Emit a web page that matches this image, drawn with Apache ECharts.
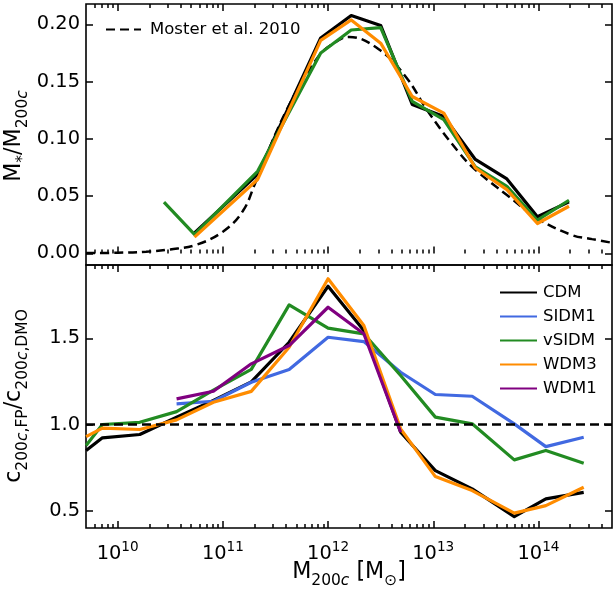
<!DOCTYPE html>
<html>
<head>
<meta charset="utf-8">
<script src="https://cdn.jsdelivr.net/npm/echarts@6/dist/echarts.min.js"></script>
<style>
  html, body { margin: 0; padding: 0; background: #fff; }
  #chart { width: 614px; height: 590px; }
</style>
</head>
<body>
<div id="chart"></div>
<script>
// top panel: M*/M200c, log10 of halo mass per bin
const logMTop = [10.44, 10.73, 11.33, 11.93, 12.22, 12.50, 12.80, 13.10, 13.40, 13.70, 13.99, 14.29];
const cdmTop = [null, 0.018, 0.069, 0.188, 0.2076, 0.199, 0.130, 0.1196, 0.082, 0.065, 0.032, 0.045];
const vsidmTop = [0.0447, 0.0166, 0.0717, 0.175, 0.195, 0.197, 0.1327, 0.1167, 0.0755, 0.0586, 0.029, 0.0464];
const wdm3Top = [null, 0.0142, 0.0645, 0.186, 0.2038, 0.1835, 0.137, 0.1225, 0.0746, 0.0557, 0.0261, 0.0412];

// Moster et al. 2010 curve
const logMMoster = [9.70, 10.0, 10.27, 10.5, 10.745, 11.0, 11.19, 11.31, 11.6, 11.91, 12.1, 12.2, 12.485, 12.74, 12.96, 13.245, 13.40, 13.7, 14.0, 14.32, 14.51, 14.70];
const moster = [0.0003, 0.0006, 0.0015, 0.0035, 0.0075, 0.019, 0.037, 0.062, 0.124, 0.172, 0.186, 0.189, 0.178, 0.154, 0.1225, 0.088, 0.073, 0.051, 0.030, 0.016, 0.0125, 0.0093];

// bottom panel: c200c,FP / c200c,DMO
const logMBot = [9.70, 9.855, 10.21, 10.56, 10.91, 11.27, 11.63, 12.00, 12.34, 12.69, 13.02, 13.37, 13.77, 14.07, 14.43];
const cdmBot = [0.849, 0.923, 0.942, 1.042, 1.139, 1.247, 1.477, 1.802, 1.545, 0.955, 0.733, 0.627, 0.466, 0.569, 0.607];
const sidm1Bot = [null, null, null, 1.12, 1.135, 1.245, 1.319, 1.506, 1.481, 1.303, 1.174, 1.164, 1.004, 0.872, 0.926];
const vsidmBot = [0.878, 1.0, 1.013, 1.075, 1.20, 1.32, 1.694, 1.559, 1.526, 1.284, 1.043, 1.004, 0.795, 0.849, 0.776];
const wdm3Bot = [0.93, 0.979, 0.971, 1.027, 1.129, 1.192, 1.448, 1.845, 1.574, 0.975, 0.698, 0.617, 0.486, 0.530, 0.636];
const wdm1Bot = [null, null, null, 1.149, 1.193, 1.352, 1.458, 1.68, 1.526, 0.955, null, null, null, null, null];

const xMajor = [1e10, 1e11, 1e12, 1e13, 1e14];
const topTicks = [0, 0.05, 0.10, 0.15, 0.20];
const botTicks = [0.5, 1.0, 1.5];

const FONT = "DejaVu Sans";
const colors = { CDM: "#000000", SIDM1: "#4169e1", vSIDM: "#228b22", WDM3: "#ff8c00", WDM1: "#800080" };

const xMinor = [];
for (let e = 9; e <= 14; e++) {
  for (let k = 2; k <= 9; k++) {
    const v = k * Math.pow(10, e);
    if (v > 5e9 && v < 5e14) xMinor.push(v);
  }
}

function pairs(logs, vals) {
  const out = [];
  logs.forEach((l, i) => {
    if (vals[i] !== null) out.push([Math.pow(10, l), vals[i]]);
  });
  return out;
}

const tickStyle = { color: "#000", width: 1.5 };

function xAxisFor(grid, pos, major, labels) {
  return {
    type: "log",
    logBase: 10,
    gridIndex: grid,
    position: pos,
    min: 5e9,
    max: 5e14,
    axisLine: { show: false },
    splitLine: { show: false },
    axisTick: {
      show: true,
      inside: true,
      length: major ? 7 : 4,
      customValues: major ? xMajor : xMinor,
      lineStyle: tickStyle,
    },
    axisLabel: {
      show: labels,
      customValues: xMajor,
      margin: 12,
      formatter: function (v) {
        return "{b|10}{s|" + Math.round(Math.log10(v)) + "}";
      },
      rich: {
        b: { fontFamily: FONT, fontSize: 19.4, color: "#000", verticalAlign: "bottom" },
        s: { fontFamily: FONT, fontSize: 13.6, color: "#000", verticalAlign: "bottom", padding: [0, 0, 9, 0] },
      },
    },
  };
}

function yAxisFor(grid, pos, min, max, ticks, digits, labels) {
  return {
    type: "value",
    gridIndex: grid,
    position: pos,
    min: min,
    max: max,
    axisLine: { show: false },
    splitLine: { show: false },
    axisTick: { show: true, inside: true, length: 7, customValues: ticks, lineStyle: tickStyle },
    axisLabel: {
      show: labels,
      customValues: ticks,
      margin: 6,
      fontFamily: FONT,
      fontSize: 19.4,
      color: "#000",
      formatter: (v) => v.toFixed(digits),
    },
  };
}

function line(name, logs, vals, xi, yi, extra) {
  return Object.assign({
    name: name,
    type: "line",
    xAxisIndex: xi,
    yAxisIndex: yi,
    data: pairs(logs, vals),
    showSymbol: false,
    symbol: "none",
    lineStyle: { color: colors[name] || "#000", width: 3.2, join: "round" },
    itemStyle: { color: colors[name] || "#000" },
    emphasis: { disabled: true },
    animation: false,
  }, extra || {});
}

const chart = echarts.init(document.getElementById("chart"));

const subText = {
  n: { fontFamily: FONT, fontSize: 22.2, color: "#000", verticalAlign: "bottom", padding: [0, 0, 6, 0] },
  s: { fontFamily: FONT, fontSize: 15.5, color: "#000", verticalAlign: "bottom" },
  si: { fontFamily: FONT, fontSize: 15.5, fontStyle: "italic", color: "#000", verticalAlign: "bottom" },
};

const option = {
  animation: false,
  grid: [
    { left: 86, right: 2, top: 4, height: 261, show: true, borderColor: "#000", borderWidth: 1.6, backgroundColor: "transparent", outerBoundsMode: "none" },
    { left: 86, right: 2, top: 265, height: 263, show: true, borderColor: "#000", borderWidth: 1.6, backgroundColor: "transparent", outerBoundsMode: "none" },
  ],
  xAxis: [
    xAxisFor(0, "bottom", true, false),
    xAxisFor(0, "bottom", false, false),
    xAxisFor(0, "top", true, false),
    xAxisFor(0, "top", false, false),
    xAxisFor(1, "bottom", true, true),
    xAxisFor(1, "bottom", false, false),
    xAxisFor(1, "top", true, false),
    xAxisFor(1, "top", false, false),
  ],
  yAxis: [
    yAxisFor(0, "left", -0.0101, 0.2177, topTicks, 2, true),
    yAxisFor(0, "right", -0.0101, 0.2177, topTicks, 2, false),
    yAxisFor(1, "left", 0.40, 1.925, botTicks, 1, true),
    yAxisFor(1, "right", 0.40, 1.925, botTicks, 1, false),
  ],
  legend: [
    {
      data: ["Moster et al. 2010"],
      left: 100,
      top: 16,
      itemWidth: 35,
      itemHeight: 14,
      itemStyle: { opacity: 0 },
      textStyle: { fontFamily: FONT, fontSize: 16.5, color: "#000", padding: [0, 0, 0, 4] },
      selectedMode: false,
    },
    {
      data: ["CDM", "SIDM1", "vSIDM", "WDM3", "WDM1"],
      orient: "vertical",
      left: 494,
      top: 279,
      itemWidth: 37,
      itemHeight: 14,
      itemGap: 7,
      itemStyle: { opacity: 0 },
      textStyle: { fontFamily: FONT, fontSize: 16.5, color: "#000", padding: [0, 0, 0, 1] },
      selectedMode: false,
    },
  ],
  series: [
    line("Moster et al. 2010", logMMoster, moster, 0, 0, {
      smooth: 0.4,
      lineStyle: { color: "#000", width: 2.5, type: [9, 5] },
    }),
    line("CDM", logMTop, cdmTop, 0, 0),
    line("vSIDM", logMTop, vsidmTop, 0, 0),
    line("WDM3", logMTop, wdm3Top, 0, 0),

    line("CDM", logMBot, cdmBot, 4, 2, {
      markLine: {
        silent: true,
        symbol: "none",
        label: { show: false },
        lineStyle: { color: "#000", width: 2.5, type: [9, 5] },
        data: [{ yAxis: 1.0 }],
        animation: false,
      },
    }),
    line("SIDM1", logMBot, sidm1Bot, 4, 2),
    line("vSIDM", logMBot, vsidmBot, 4, 2),
    line("WDM3", logMBot, wdm3Bot, 4, 2),
    line("WDM1", logMBot, wdm1Bot, 4, 2),
  ],
  graphic: [
    {
      type: "text",
      x: 17,
      y: 136,
      rotation: Math.PI / 2,
      style: {
        text: "{n|M}{s|*}{n|/M}{s|200}{si|c}",
        rich: subText,
        align: "center",
        verticalAlign: "middle",
      },
    },
    {
      type: "text",
      x: 17,
      y: 396,
      rotation: Math.PI / 2,
      style: {
        text: "{n|c}{s|200}{si|c}{s|,FP}{n|/c}{s|200}{si|c}{s|,DMO}",
        rich: subText,
        align: "center",
        verticalAlign: "middle",
      },
    },
    {
      type: "text",
      x: 349,
      y: 575,
      style: {
        text: "{n|M}{s|200}{si|c}{n| [M}{s|⊙}{n|]}",
        rich: subText,
        align: "center",
        verticalAlign: "middle",
      },
    },
  ],
};

chart.setOption(option);
</script>
</body>
</html>
